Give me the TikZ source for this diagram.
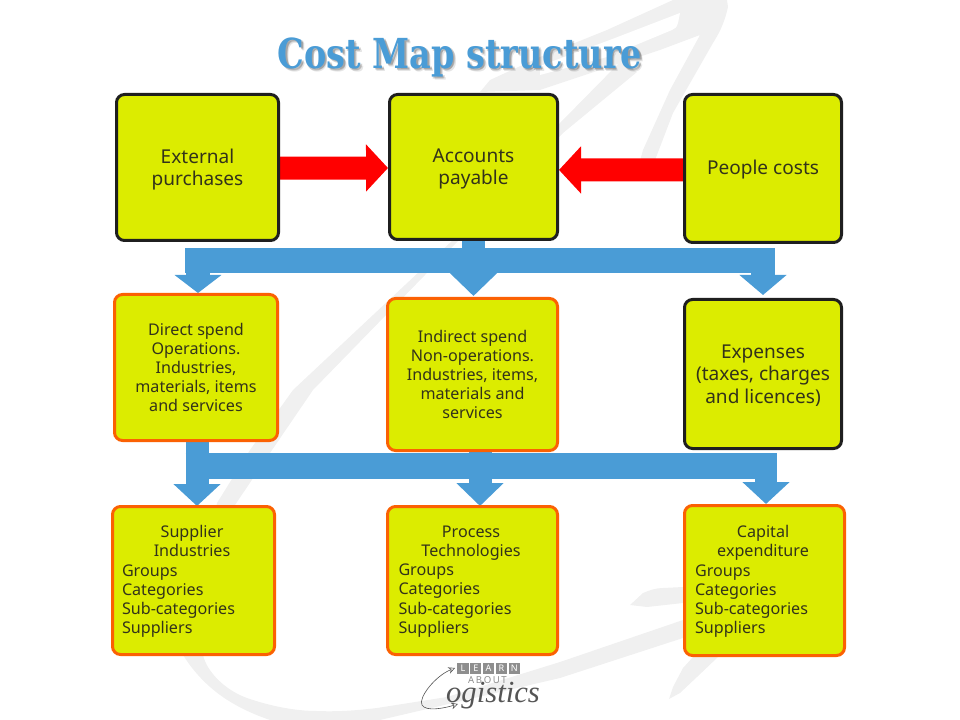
\documentclass[tikz,border=0pt]{standalone}
\usepackage{fontspec}
\setmainfont{Noto Sans}
\setsansfont{Noto Sans}
\newfontfamily\titlefont[FakeStretch=0.81]{DejaVu Serif}
\newfontfamily\logofont{Liberation Serif}
\usetikzlibrary{arrows.meta}
\definecolor{boxfill}{HTML}{DCEC00}
\definecolor{boxdark}{HTML}{1F1F1F}
\definecolor{boxorange}{HTML}{FB6103}
\definecolor{flowblue}{HTML}{4A9CD6}
\definecolor{wmgrey}{HTML}{F0F0F0}
\definecolor{bodyink}{HTML}{33331A}
\definecolor{logogrey}{HTML}{8E8E8E}
\definecolor{logodark}{HTML}{555555}
\pgfdeclarelayer{under}
\pgfsetlayers{under,main}
\newcommand{\centreline}[1]{\hbox to \linewidth{\hfil #1\hskip 2.2pt\hfil}}
\newcommand{\dropfirst}[1]{\rule{0pt}{#1}}
\tikzset{
  basebox/.style={draw,fill=boxfill,line width=2.25pt,rounded corners=6pt,inner sep=0pt,align=center,text=bodyink},
  darkbox/.style={basebox,draw=boxdark},
  orangebox/.style={basebox,draw=boxorange},
  bigtext/.style={font=\fontsize{14.3}{16.8}\selectfont},
  smalltext/.style={font=\fontsize{12.1}{14.4}\selectfont},
  redflow/.style={draw=red,line width=17.25pt,{-{Triangle[length=16.5pt,width=34.5pt]}}},
  blueflow/.style={draw=flowblue,line width=#1},
  bluehead/.style={-{Triangle[length=#1,width=34.5pt]}},
  wmshape/.style={fill=wmgrey,draw=none},
  tile/.style={fill=logogrey,text=white,inner sep=0pt,minimum width=8.4pt,minimum height=8.1pt,font=\fontsize{6.8}{7}\selectfont\sffamily},
}
\begin{document}
\begin{tikzpicture}[x=0.75pt,y=-0.75pt]
\useasboundingbox (0,0) rectangle (960,720);
\begin{pgfonlayer}{under}
  % watermark: arrow head and upper barb
  \fill[wmshape] (673,0) -- (727,0) -- (728,7) .. controls (724,25) and (718,35) .. (713,43) -- (673,113) -- (652,168) -- (638,168) -- (643,150) -- (670,90) -- (700,35) -- (660,50) -- (540,90) -- (480,92) -- (490,80) -- (540,57) -- (607,30) -- cycle;
  \fill[white] (680,13) -- (678,23) .. controls (677,27) and (675,29) .. (672,30) -- (607,57) -- (540,75) -- (540,66) -- (615,38) -- cycle;
  % watermark: long stroke with the bottom curve
  \fill[wmshape] (620,62) -- (637,72) -- (563,133) -- (425,275) -- (313,390) -- (270,453) -- (235,505) -- (203,655) .. controls (207,672) and (225,690) .. (247,698) .. controls (270,706) and (295,711) .. (317,711) .. controls (340,712) and (360,710) .. (377,708) -- (447,697) -- (560,662) -- (683,620) -- (683,638) -- (560,678) -- (380,720) -- (270,720) .. controls (235,708) and (205,690) .. (183,655) -- (217,503) -- (250,450) -- (293,390) -- (453,240) -- (560,123) -- cycle;
  % watermark: lower leaves
  \fill[wmshape] (630,605) -- (643,593) .. controls (650,590) and (656,588) .. (663,588) -- (683,587) -- (683,603) -- (647,607) -- cycle;
  \fill[wmshape] (718,657) -- (697,677) -- (680,693) -- (669,699) -- (673,687) -- (683,668) -- (693,657) -- cycle;
\end{pgfonlayer}

% boxes
\node[darkbox,bigtext,minimum width=121.5pt,minimum height=109.5pt] (external) at (197.5,167.5) {\dropfirst{13.8pt}External\\purchases};
\node[darkbox,bigtext,minimum width=126pt,minimum height=108.75pt] (accounts) at (473.5,167) {\dropfirst{13.1pt}Accounts\\payable};
\node[darkbox,bigtext,minimum width=117.75pt,minimum height=111pt] (people) at (763,168.5) {\dropfirst{12.3pt}People costs};
\node[orangebox,smalltext,minimum width=122.25pt,minimum height=109.5pt] (direct) at (196,367.5) {Direct spend\\Operations.\\Industries,\\materials, items\\and services};
\node[orangebox,smalltext,minimum width=127.5pt,minimum height=114pt] (indirect) at (472.5,374.5) {Indirect spend\\Non-operations.\\Industries, items,\\materials and\\services};
\node[darkbox,bigtext,minimum width=117.75pt,minimum height=111.75pt] (expenses) at (763,374) {\dropfirst{12.3pt}Expenses\\(taxes, charges\\and licences)};
\node[orangebox,smalltext,minimum width=121.5pt,minimum height=111pt] (supplier) at (193.5,580.5) {\begin{minipage}{107.25pt}\vspace*{1.5pt}\centreline{Supplier}\centreline{Industries}Groups\\Categories\\Sub-categories\\Suppliers\end{minipage}};
\node[orangebox,smalltext,minimum width=127.5pt,minimum height=111pt] (process) at (472.5,580.5) {\begin{minipage}{111pt}\vspace*{1.5pt}\centreline{Process}\centreline{Technologies}Groups\\Categories\\Sub-categories\\Suppliers\end{minipage}};
\node[orangebox,smalltext,minimum width=120pt,minimum height=112.5pt] (capital) at (764.5,580.5) {\begin{minipage}{104.25pt}\vspace*{1.5pt}\centreline{Capital}\centreline{expenditure}Groups\\Categories\\Sub-categories\\Suppliers\end{minipage}};

\begin{pgfonlayer}{under}
  % red flows
  \draw[redflow] ([yshift=-0.4pt]external.east) -- ([yshift=-0.75pt]accounts.west);
  \draw[redflow] ([yshift=-1.1pt]people.west) -- ([yshift=-2.2pt]accounts.east);
  % upper blue bus
  \coordinate (upperL) at (185,260.4);
  \coordinate (upperR) at (775,260.4);
  \draw[blueflow=18.5pt] (upperL) -- (upperR);
  \draw[blueflow=18pt,bluehead=13.5pt] (198,255) -- ([xshift=1.5pt]direct.north);
  \draw[blueflow=17.25pt,bluehead=17.25pt] (accounts.south) -- (473.5,296);
  \draw[blueflow=18pt,bluehead=15pt] (763,255) -- (763,295);
  % lower blue bus
  \coordinate (lowerL) at (185.5,466);
  \coordinate (lowerR) at (777,466);
  \draw[blueflow=19.5pt] (lowerL) -- (lowerR);
  \draw[blueflow=17.25pt,bluehead=16.5pt] ([xshift=0.75pt]direct.south) -- (197,506);
  \draw[blueflow=17.25pt,bluehead=17.25pt] (480,451) -- (480,506);
  \draw[blueflow=16.5pt,bluehead=16.5pt] (766,460) -- (766,504);
\end{pgfonlayer}

% title with its soft shadow
\newcommand{\titletext}{\titlefont\bfseries\fontsize{31}{36}\selectfont Cost Map structure}
\foreach \dx/\dy/\op [count=\n] in {2.4/3.2/.10,1.2/2.6/.14,1.8/1.6/.16}{
  \node[text=black,opacity=\op,inner sep=0pt] (titleshadow\n) at (460+\dx,57+\dy) {\titletext};
}
\node[text=flowblue,inner sep=0pt] (title) at (460,57) {\titletext};

% logo
\foreach \l [count=\i] in {L,E,A,R,N}{
  \node[tile] (tile\i) at ({463+(\i-1)*12.8},668.6) {\l};
}
\node[text=logogrey,inner sep=0pt,font=\fontsize{7.2}{7}\selectfont\sffamily] (logoabout) at (487.5,679.6) {A\,B\,O\,U\,T};
\node[text=logodark,inner sep=0pt,font=\logofont\itshape\fontsize{23}{23}\selectfont] (logoword) at (493,696) {ogistics};
\coordinate (logotipA) at (455,668);
\coordinate (logotipB) at (458,704);
\draw[logodark,line width=0.45pt,{Stealth[open,length=5pt,width=5pt]}-{Stealth[open,length=5pt,width=5pt]}] (logotipA) .. controls (435,676) and (418,698) .. (422,705) .. controls (426,712) and (445,708) .. (logotipB);
\end{tikzpicture}
\end{document}
